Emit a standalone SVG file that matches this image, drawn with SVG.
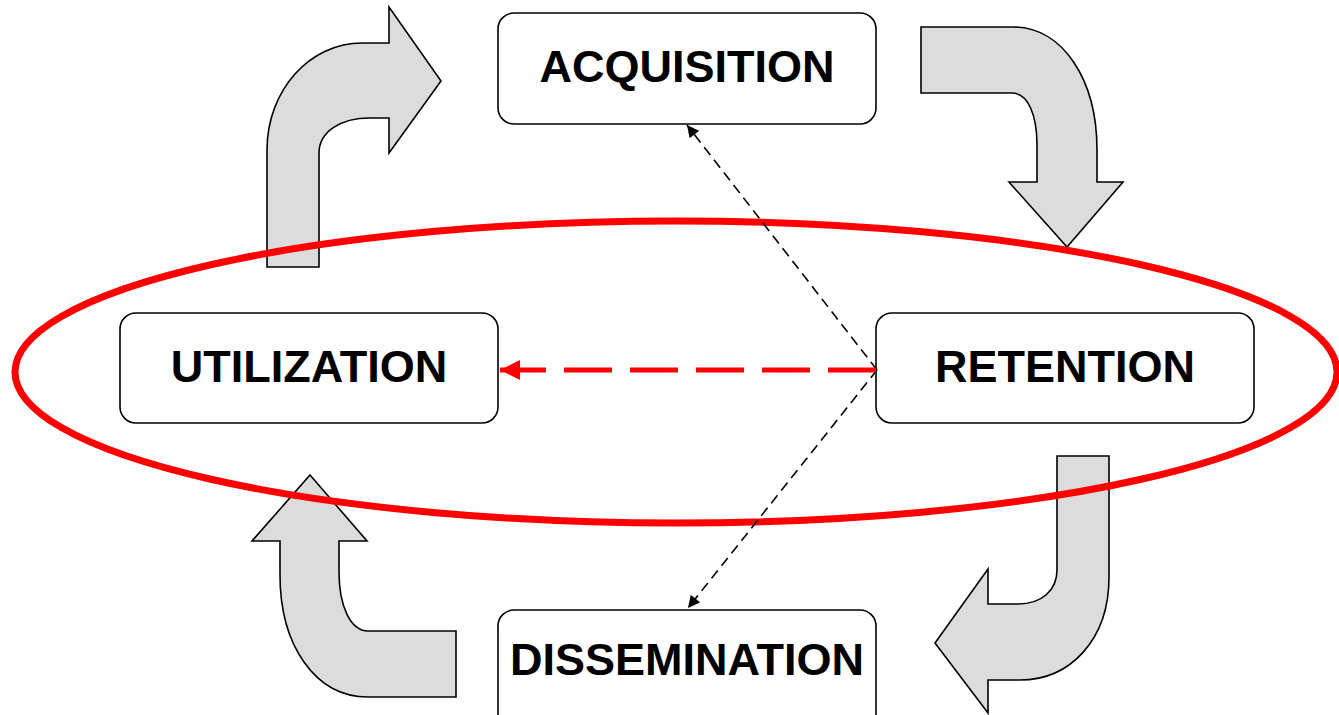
<svg xmlns="http://www.w3.org/2000/svg" width="1339" height="715" viewBox="0 0 1339 715">
<defs>
<style>
.box{fill:#fff;stroke:#000;stroke-width:1.6}
.lbl{font-family:"Liberation Sans",Arial,sans-serif;font-weight:bold;font-size:45px;fill:#000;text-anchor:middle}
.blk{fill:#dcdcdc;stroke:#000;stroke-width:1.6;stroke-linejoin:miter}
.dash{fill:none;stroke:#000;stroke-width:1.6;stroke-dasharray:10 6}
</style>
<marker id="ah" viewBox="0 0 10 10" refX="10" refY="5" markerWidth="13" markerHeight="12" markerUnits="userSpaceOnUse" orient="auto"><path d="M0 0L10 5L0 10Z" fill="#000"/></marker>
<marker id="ahr" viewBox="0 0 10 10" refX="10" refY="5" markerWidth="4" markerHeight="4" orient="auto"><path d="M0 0L10 5L0 10Z" fill="#f00"/></marker>
</defs>
<g id="cycle-arrows">
<path class="blk" d="M267 267L267 150C267 90 310 43 362 43L389 43L389 7L441 81L389 153L389 118L370 118C340 118 319 132 319 153L319 267Z"/>
<path class="blk" d="M921 27L1013 27C1063 27 1097 80 1097 150L1097 182L1123 182L1067 247L1009 182L1037 182L1037 145C1037 115 1028 93 1012 93L921 93Z"/>
<path class="blk" d="M1057 456L1109 456L1109 577C1109 640 1070 680 1020 680L988 680L988 713L935 643L988 569L988 604L1018 604C1042 604 1057 590 1057 570Z"/>
<path class="blk" d="M310 475L367 541L339 541L339 572C339 605 350 631 368 631L456 631L456 697L368 697C315 697 280 645 280 575L280 541L252 541Z"/>
</g>
<g id="ellipse"><ellipse cx="676" cy="372" rx="661" ry="151" fill="none" stroke="#f00" stroke-width="7"/></g>
<g id="acquisition"><rect class="box" x="498" y="13" width="378" height="111" rx="16"/><text class="lbl" x="687" y="82">ACQUISITION</text></g>
<g id="utilization"><rect class="box" x="120" y="313" width="378" height="110" rx="16"/><text class="lbl" x="309" y="382">UTILIZATION</text></g>
<g id="retention"><rect class="box" x="876" y="313" width="378" height="110" rx="16"/><text class="lbl" x="1065" y="382">RETENTION</text></g>
<g id="dissemination"><rect class="box" x="498" y="610" width="378" height="120" rx="16"/><text class="lbl" x="687" y="675">DISSEMINATION</text></g>
<g id="connectors">
<path class="dash" d="M877 370L687 125" marker-end="url(#ah)"/>
<path class="dash" d="M877 370L688 608" marker-end="url(#ah)"/>
<path d="M876 370L500 370" fill="none" stroke="#f00" stroke-width="5" stroke-dasharray="48 18" marker-end="url(#ahr)"/>
</g>
</svg>
